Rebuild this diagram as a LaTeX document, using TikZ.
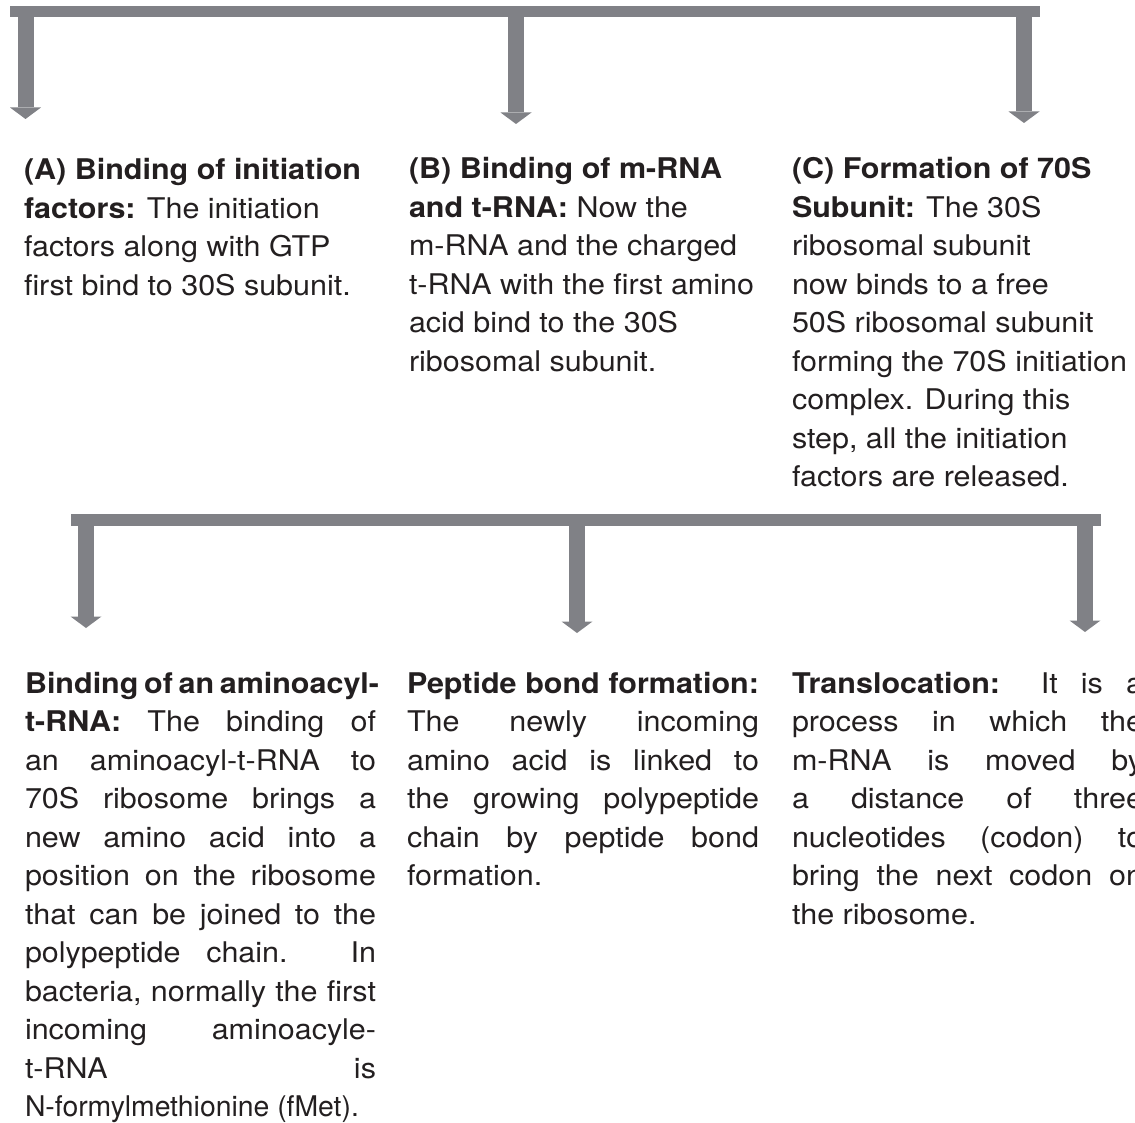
\documentclass[tikz,border=0pt]{standalone}
\usepackage{fontspec}
\usepackage{graphicx}
\setmainfont{TeX Gyre Heros}[FakeStretch=1.07]
\usetikzlibrary{arrows.meta}
\definecolor{bargray}{RGB}{128,129,134}
\definecolor{ink}{RGB}{35,31,32}
\newcommand{\jline}[1]{\makebox[\linewidth][s]{#1}\\}
\tikzset{
  bar/.style={draw=bargray, line width=11.5pt, line cap=butt},
  downarrow/.style={draw=bargray, line width=16pt,
    -{Triangle[width=31pt,length=11.5pt,line width=0pt]}},
  txt/.style={anchor=base west, inner sep=0pt, outer sep=0pt, text=ink,
    font=\fontsize{28.5}{38.5}\selectfont},
}
\begin{document}
\begin{tikzpicture}[x=1pt,y=-1pt]
\useasboundingbox (0,0) rectangle (1135,1123);
\clip (0,0) rectangle (1135,1123);
% top bar and arrows
\coordinate (t1l) at (10,11.75);
\coordinate (t1r) at (1040,11.75);
\draw[bar] (t1l) -- (t1r);
\coordinate (sA) at (25.5,11.75);  \coordinate (eA) at (25.5,119);
\coordinate (sB) at (516,11.75);   \coordinate (eB) at (516,124);
\coordinate (sC) at (1024,11.75);  \coordinate (eC) at (1024,123);
\draw[downarrow] (sA) -- (eA);
\draw[downarrow] (sB) -- (eB);
\draw[downarrow] (sC) -- (eC);
% bottom bar and arrows
\coordinate (t2l) at (71,520);
\coordinate (t2r) at (1101,520);
\draw[bar] (t2l) -- (t2r);
\coordinate (sD) at (86,520);   \coordinate (eD) at (86,628);
\coordinate (sE) at (577,520);  \coordinate (eE) at (577,633);
\coordinate (sF) at (1085,520); \coordinate (eF) at (1085,632);
\draw[downarrow] (sD) -- (eD);
\draw[downarrow] (sE) -- (eE);
\draw[downarrow] (sF) -- (eF);
% top texts
\node[txt] (A) at (24,180) {\parbox[t]{360pt}{\raggedright
\textbf{(A) Binding of initiation}\\
\textbf{factors:} The initiation\\
factors along with GTP\\
first bind to 30S subunit.}};
\node[txt] (B) at (409,179) {\parbox[t]{360pt}{\raggedright
\textbf{(B) Binding of m-RNA}\\
\textbf{and t-RNA:} Now the\\
m-RNA and the charged\\
t-RNA with the first amino\\
acid bind to the 30S\\
ribosomal subunit.}};
\node[txt] (C) at (792,179) {\parbox[t]{360pt}{\raggedright
\textbf{(C) Formation of 70S}\\
\textbf{Subunit:} The 30S\\
ribosomal subunit\\
now binds to a free\\
50S ribosomal subunit\\
forming the 70S initiation\\
complex. During this\\
step, all the initiation\\
factors are released.}};
% bottom texts
\node[txt] (D) at (25,693) {\parbox[t]{351pt}{%
\jline{\textbf{Binding of an aminoacyl-}}
\jline{\textbf{t-RNA:} The binding of}
\jline{an aminoacyl-t-RNA to}
\jline{70S ribosome brings a}
\jline{new amino acid into a}
\jline{position on the ribosome}
\jline{that can be joined to the}
\jline{polypeptide chain. In}
\jline{bacteria, normally the first}
\jline{incoming aminoacyle-}
\jline{t-RNA is}
\mbox{\scalebox{0.93}[1]{N-formylmethionine (fMet).}}}};
\node[txt] (E) at (407,693) {\parbox[t]{352pt}{%
\jline{\textbf{Peptide bond formation:}}
\jline{The newly incoming}
\jline{amino acid is linked to}
\jline{the growing polypeptide}
\jline{chain by peptide bond}
formation.}};
\node[txt] (F) at (792,693) {\parbox[t]{351pt}{%
\jline{\textbf{Translocation:} It is a}
\jline{process in which the}
\jline{m-RNA is moved by}
\jline{a distance of three}
\jline{nucleotides (codon) to}
\jline{bring the next codon on}
the ribosome.}};
\end{tikzpicture}
\end{document}
